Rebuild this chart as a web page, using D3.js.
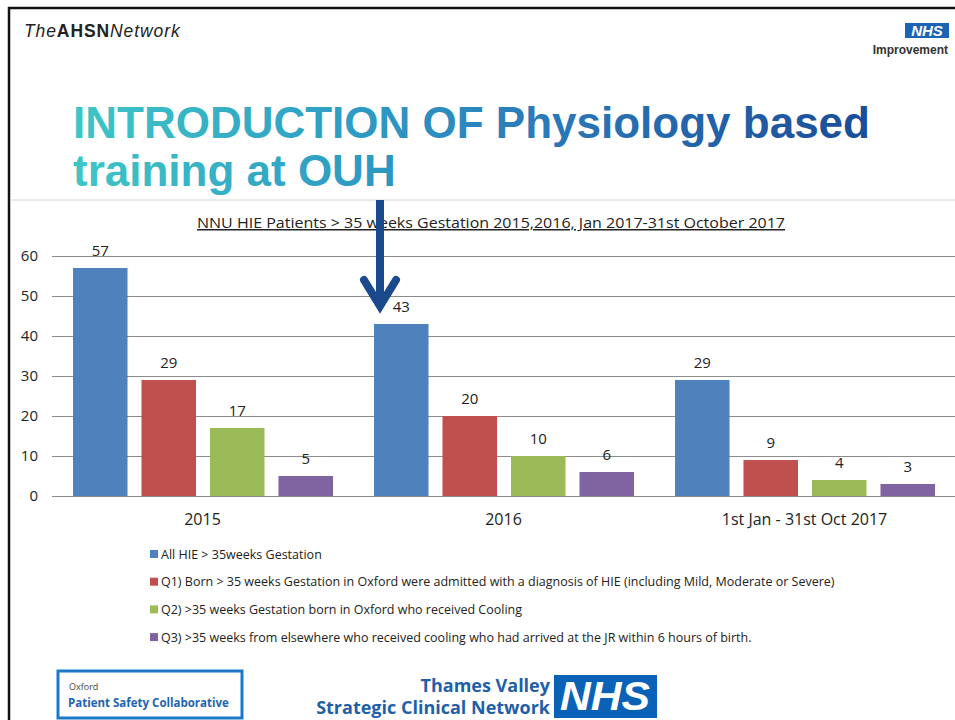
<!DOCTYPE html>
<html>
<head>
<meta charset="utf-8">
<script src="https://cdn.jsdelivr.net/npm/d3@7"></script>
<style>
  body { margin: 0; background: #fff; }
  svg { display: block; }
  .narrow { font-family: "Open Sans", sans-serif; }
</style>
</head>
<body>
<div id="chart"></div>
<script>
const categories = ['2015', '2016', '1st Jan - 31st Oct 2017'];
const seriesNames = [
  'All HIE > 35weeks Gestation',
  'Q1) Born > 35 weeks Gestation in Oxford were admitted with a diagnosis of HIE (including Mild, Moderate or Severe)',
  'Q2) >35 weeks Gestation born in Oxford who received Cooling',
  'Q3) >35 weeks from elsewhere who received cooling who had arrived at the JR within 6 hours of birth.'
];
const allHie = [57, 43, 29];
const q1 = [29, 20, 9];
const q2 = [17, 10, 4];
const q3 = [5, 6, 3];
const yTicks = [0, 10, 20, 30, 40, 50, 60];
const colors = ['#4f81bd', '#c0504d', '#9bbb59', '#8064a2'];

const width = 955, height = 720;
const svg = d3.select('#chart').append('svg')
  .attr('width', width)
  .attr('height', height);

// slide frame
svg.append('line').attr('x1', 8).attr('x2', width).attr('y1', 8).attr('y2', 8)
  .attr('stroke', '#111').attr('stroke-width', 2.5);
svg.append('line').attr('x1', 9).attr('x2', 9).attr('y1', 7).attr('y2', height)
  .attr('stroke', '#111').attr('stroke-width', 2.5);
svg.append('line').attr('x1', 10).attr('x2', width).attr('y1', 200).attr('y2', 200)
  .attr('stroke', '#d4d4d4').attr('stroke-width', 1);

// header left
const ahsn = svg.append('text').attr('x', 24).attr('y', 37)
  .attr('font-family', 'Liberation Sans, Arial, sans-serif').attr('font-size', 17.5)
  .attr('fill', '#222').attr('letter-spacing', 0.9);
ahsn.append('tspan').attr('font-style', 'italic').text('The');
ahsn.append('tspan').attr('font-weight', 'bold').text('AHSN');
ahsn.append('tspan').attr('font-style', 'italic').text('Network');

// header right
svg.append('rect').attr('x', 905).attr('y', 23).attr('width', 44).attr('height', 15)
  .attr('fill', '#1a64b4');
svg.append('text').attr('x', 927).attr('y', 36).attr('text-anchor', 'middle')
  .attr('font-family', 'Liberation Sans, Arial, sans-serif').attr('font-size', 15)
  .attr('font-weight', 'bold').attr('font-style', 'italic').attr('fill', '#fff')
  .text('NHS');
svg.append('text').attr('x', 948).attr('y', 54).attr('text-anchor', 'end')
  .attr('font-family', 'Liberation Sans, Arial, sans-serif').attr('font-size', 12)
  .attr('font-weight', 'bold').attr('fill', '#333').text('Improvement');

// title gradient
const defs = svg.append('defs');
const grad = defs.append('linearGradient').attr('id', 'titleGrad')
  .attr('gradientUnits', 'userSpaceOnUse')
  .attr('x1', 73).attr('x2', 870).attr('y1', 0).attr('y2', 0);
grad.append('stop').attr('offset', '0%').attr('stop-color', '#3ec6c6');
grad.append('stop').attr('offset', '35%').attr('stop-color', '#2e9cc4');
grad.append('stop').attr('offset', '60%').attr('stop-color', '#2a78b8');
grad.append('stop').attr('offset', '100%').attr('stop-color', '#1a4c98');

const titleLines = ['INTRODUCTION OF Physiology based', 'training at OUH'];
svg.selectAll('.title').data(titleLines).enter().append('text')
  .attr('x', 73).attr('y', (d, i) => 138 + i * 48)
  .attr('font-family', 'Liberation Sans, Arial, sans-serif').attr('font-size', 44)
  .attr('font-weight', 'bold').attr('fill', 'url(#titleGrad)')
  .text(d => d);

// chart
const margin = { left: 52, right: 955, top: 256, bottom: 496 };
const y = d3.scaleLinear().domain([0, 60]).range([margin.bottom, margin.top]);
const x0 = d3.scaleBand().domain(categories).range([margin.left, margin.right]);
const x1 = d3.scaleBand().domain(d3.range(4)).range([21, 281]).paddingInner(0.204);

svg.append('text').attr('class', 'narrow').attr('x', 491).attr('y', 228)
  .attr('text-anchor', 'middle').attr('font-size', 15).attr('fill', '#222')
  .attr('text-decoration', 'underline')
  .attr('textLength', 588).attr('lengthAdjust', 'spacingAndGlyphs')
  .text('NNU HIE Patients  > 35 weeks Gestation 2015,2016, Jan 2017-31st October 2017');

const yAxis = svg.append('g').attr('transform', `translate(${margin.left},0)`)
  .call(d3.axisLeft(y).tickValues(yTicks).tickSize(-(margin.right - margin.left)).tickPadding(14));
yAxis.select('.domain').remove();
yAxis.selectAll('.tick line').attr('stroke', '#8c8c8c').attr('stroke-width', 1);
yAxis.selectAll('.tick text').attr('class', 'narrow').attr('font-size', 15).attr('fill', '#222');

const data = [allHie, q1, q2, q3];
const groups = svg.selectAll('.grp').data(categories).enter().append('g')
  .attr('transform', d => `translate(${x0(d)},0)`);
groups.each(function(cat, ci) {
  const g = d3.select(this);
  data.forEach((vals, si) => {
    g.append('rect')
      .attr('x', x1(si)).attr('width', x1.bandwidth())
      .attr('y', y(vals[ci])).attr('height', y(0) - y(vals[ci]))
      .attr('fill', colors[si]);
    g.append('text').attr('class', 'narrow')
      .attr('x', x1(si) + x1.bandwidth() / 2).attr('y', y(vals[ci]) - 12)
      .attr('text-anchor', 'middle').attr('font-size', 15).attr('fill', '#222')
      .text(vals[ci]);
  });
  g.append('text').attr('class', 'narrow')
    .attr('x', x0.bandwidth() / 2).attr('y', 525)
    .attr('text-anchor', 'middle').attr('font-size', 16).attr('fill', '#222')
    .text(cat);
});

// legend
const legend = svg.selectAll('.leg').data(seriesNames).enter().append('g')
  .attr('transform', (d, i) => `translate(150,${554 + i * 27.7})`);
legend.append('rect').attr('x', 0).attr('y', -4).attr('width', 8).attr('height', 8)
  .attr('fill', (d, i) => colors[i]);
legend.append('text').attr('class', 'narrow').attr('x', 11).attr('y', 4.5)
  .attr('font-size', 12.5).attr('fill', '#222').text(d => d);

// footer logos
svg.append('rect').attr('x', 58).attr('y', 671).attr('width', 184).attr('height', 47)
  .attr('fill', '#fff').attr('stroke', '#1e78c8').attr('stroke-width', 3);
svg.append('text').attr('x', 69).attr('y', 690)
  .attr('font-family', 'Open Sans, sans-serif').attr('font-size', 9).attr('fill', '#444')
  .text('Oxford');
svg.append('text').attr('x', 68).attr('y', 707)
  .attr('font-family', 'Open Sans, sans-serif').attr('font-size', 11.5)
  .attr('font-weight', 'bold').attr('fill', '#1e64b0')
  .text('Patient Safety Collaborative');

svg.selectAll('.tv').data(['Thames Valley', 'Strategic Clinical Network']).enter().append('text')
  .attr('x', 550).attr('y', (d, i) => 692 + i * 22).attr('text-anchor', 'end')
  .attr('font-family', 'Open Sans, sans-serif').attr('font-size', 18)
  .attr('font-weight', 'bold').attr('fill', '#1f5fa8').text(d => d);
svg.append('rect').attr('x', 554).attr('y', 675).attr('width', 103).attr('height', 43)
  .attr('fill', '#0a62b8');
svg.append('text').attr('x', 605).attr('y', 710).attr('text-anchor', 'middle')
  .attr('font-family', 'Liberation Sans, Arial, sans-serif').attr('font-size', 40)
  .attr('font-weight', 'bold').attr('font-style', 'italic').attr('fill', '#fff')
  .attr('textLength', 90).attr('lengthAdjust', 'spacingAndGlyphs')
  .text('NHS');

// arrow
svg.append('path').attr('d', 'M380,200 L380,306')
  .attr('stroke', '#1a4a8c').attr('stroke-width', 8).attr('fill', 'none');
svg.append('path').attr('d', 'M364,280 L380,306 L396,280')
  .attr('stroke', '#1a4a8c').attr('stroke-width', 8).attr('fill', 'none')
  .attr('stroke-linecap', 'round').attr('stroke-linejoin', 'miter');
</script>
</body>
</html>
